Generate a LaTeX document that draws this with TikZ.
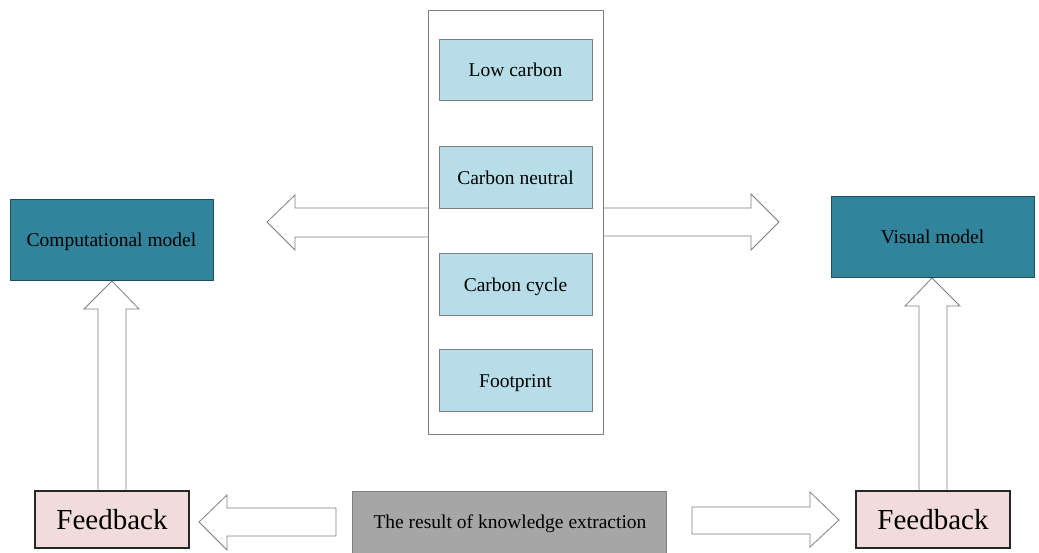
\documentclass[tikz,border=0pt]{standalone}
\usepackage{fontspec}
\setmainfont{Liberation Serif}
\definecolor{teal1}{HTML}{31849B}
\definecolor{tealb}{HTML}{1F4F5C}
\definecolor{lblue}{HTML}{B7DEE8}
\definecolor{pinkf}{HTML}{F2DCDB}
\definecolor{grayf}{HTML}{A6A6A6}
\definecolor{lineg}{HTML}{7F7F7F}
\begin{document}
\begin{tikzpicture}[x=1pt,y=-1pt,
  box/.style={draw=lineg,line width=0.8pt,inner sep=0pt,font=\fontsize{19.5}{22}\selectfont,text height=13pt,text depth=0pt},
  topic/.style={box,fill=lblue},
  model/.style={box,fill=teal1,draw=tealb},
  fb/.style={draw=black!85,line width=1.4pt,fill=pinkf,inner sep=0pt,font=\fontsize{29}{32}\selectfont,text height=20pt,text depth=0pt},
  blockarrow/.style={draw=lineg,line width=0.8pt,fill=white,line join=miter}]
\useasboundingbox (0,0) rectangle (1039,552);
% block arrows (drawn first)
\draw[blockarrow] (428,208) -- (295,208) -- (295,195) -- (267,222) -- (295,250) -- (295,237) -- (428,237);
\draw[blockarrow] (603,208) -- (751,208) -- (751,194) -- (779,222) -- (751,250) -- (751,236) -- (603,236);
\draw[blockarrow] (98,491) -- (98,309) -- (84,309) -- (112,281) -- (139,309) -- (126,309) -- (126,491);
\draw[blockarrow] (919,491) -- (919,306) -- (905,306) -- (932,278) -- (960,306) -- (947,306) -- (947,491);
\draw[blockarrow] (336,508) -- (227,508) -- (227,495) -- (199,522) -- (227,550) -- (227,536) -- (336,536) -- cycle;
\draw[blockarrow] (692,507) -- (810,507) -- (810,492) -- (839,520) -- (810,547) -- (810,534) -- (692,534) -- cycle;
% container
\node[draw=lineg,line width=0.8pt,fill=white,minimum width=175pt,minimum height=424pt,inner sep=0pt] (cont) at (515.5,222) {};
\node[topic,minimum width=153pt,minimum height=61pt] (low) at (515.5,70) {Low carbon};
\node[topic,minimum width=153pt,minimum height=62pt] (neutral) at (515.5,177.5) {Carbon neutral};
\node[topic,minimum width=153pt,minimum height=62pt] (cycle) at (515.5,284.5) {Carbon cycle};
\node[topic,minimum width=153pt,minimum height=62pt] (foot) at (515.5,380.5) {Footprint};
% models
\node[model,minimum width=203pt,minimum height=81pt] (comp) at (111.5,240) {Computational model};
\node[model,minimum width=203pt,minimum height=81pt] (vis) at (932.5,237) {Visual model};
% feedback
\node[fb,minimum width=154pt,minimum height=57pt] (fbl) at (112,519.5) {Feedback};
\node[fb,minimum width=154pt,minimum height=57pt] (fbr) at (933,519.5) {Feedback};
% result
\node[box,fill=grayf,draw=lineg,minimum width=314pt,minimum height=62pt] (res) at (509,522) {};
\node[font=\fontsize{19.5}{22}\selectfont,inner sep=0pt,text height=13pt,text depth=0pt] (restext) at (510,522) {The result of knowledge extraction};
\end{tikzpicture}
\end{document}
